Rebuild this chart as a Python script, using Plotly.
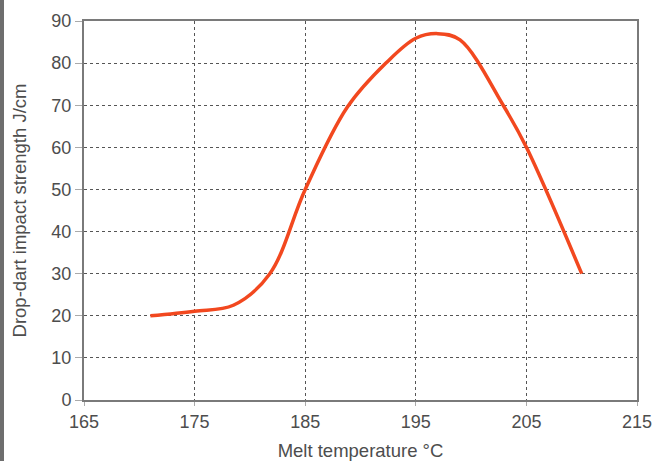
import plotly.graph_objects as go

temps = [171, 175, 178.5, 181.8, 185, 188.8, 192.3, 195, 197, 199, 202.9, 205, 210]
strength = [20, 21.1, 22.5, 30, 50, 69.5, 80, 85.9, 87, 85.5, 70, 60, 30]

x_ticks = [165, 175, 185, 195, 205, 215]
y_ticks = [0, 10, 20, 30, 40, 50, 60, 70, 80, 90]

W, H = 654, 461
L, R, T, B = 84, 17, 21, 61
pw, ph = W - L - R, H - T - B

fig = go.Figure()
fig.add_trace(go.Scatter(
    x=temps, y=strength, mode="lines",
    line=dict(color="#f2481f", width=3.5, shape="spline", smoothing=1.0),
    showlegend=False, hoverinfo="skip",
))

fam = "Liberation Sans, Arial, sans-serif"
font = dict(family=fam, size=18, color="#4d4d4d")
tfont = dict(family=fam, size=18.5, color="#4d4d4d")

fig.update_layout(
    width=W, height=H,
    margin=dict(l=L, r=R, t=T, b=B, pad=0),
    paper_bgcolor="white", plot_bgcolor="white",
    font=font,
    xaxis=dict(
        range=[165, 215], tickvals=x_ticks, ticktext=[str(v) for v in x_ticks],
        showgrid=True, gridcolor="#555555", griddash="dot", gridwidth=1,
        showline=True, linecolor="#7a7a7a", linewidth=2, mirror=True,
        ticks="outside", ticklen=4, tickcolor="#aaaaaa",
        zeroline=False, tickfont=font, automargin=False,
        title=dict(text="Melt temperature °C", font=tfont, standoff=16),
    ),
    yaxis=dict(
        range=[0, 90], tickvals=y_ticks,
        showgrid=True, gridcolor="#555555", griddash="dot", gridwidth=1,
        showline=True, linecolor="#7a7a7a", linewidth=2, mirror=True,
        ticks="outside", ticklen=7, tickcolor="#aaaaaa",
        zeroline=False, tickfont=font, automargin=False,
        title=dict(text="Drop-dart impact strength J/cm", font=tfont, standoff=20),
    ),
    shapes=[dict(
        type="rect", xref="paper", yref="paper",
        x0=(0 - L) / pw, x1=(4 - L) / pw,
        y0=-(B) / ph, y1=1 + T / ph,
        fillcolor="#6e6e6e", line=dict(width=0), layer="above",
    )],
)

fig.write_html(
    "out.html",
    config={"displayModeBar": False},
    post_script="document.body.style.margin='0';document.body.style.padding='0';document.body.style.overflow='hidden';",
)
